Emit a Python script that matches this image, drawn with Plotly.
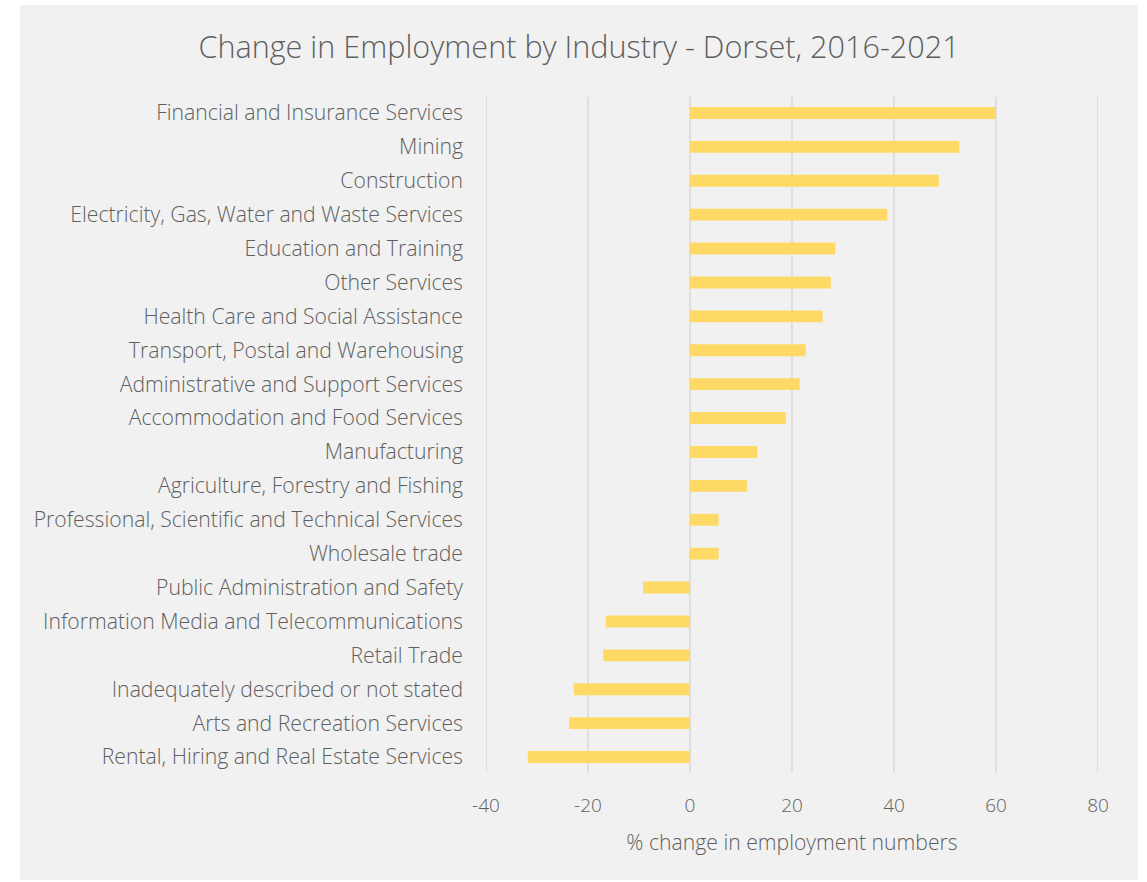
import plotly.graph_objects as go

# Industries, top to bottom as displayed
industries = [
    "Financial and Insurance Services",
    "Mining",
    "Construction",
    "Electricity, Gas, Water and Waste Services",
    "Education and Training",
    "Other Services",
    "Health Care and Social Assistance",
    "Transport, Postal and Warehousing",
    "Administrative and Support Services",
    "Accommodation and Food Services",
    "Manufacturing",
    "Agriculture, Forestry and Fishing",
    "Professional, Scientific and Technical Services",
    "Wholesale trade",
    "Public Administration and Safety",
    "Information Media and Telecommunications",
    "Retail Trade",
    "Inadequately described or not stated",
    "Arts and Recreation Services",
    "Rental, Hiring and Real Estate Services",
]

# % change in employment numbers, 2016-2021
pct_change = [
    60.0, 52.8, 48.8, 38.7, 28.5, 27.6, 26.0, 22.7, 21.5, 18.8,
    13.2, 11.2, 5.6, 5.6, -9.2, -16.5, -17.0, -22.8, -23.7, -31.8,
]

x_ticks = [-40, -20, 0, 20, 40, 60, 80]

W, H = 1147, 882
L, R, T, B = 486, 49, 96, 108
plot_w = W - L - R
plot_h = H - T - B

TEXT = "#5f5f5f"
FONT = "Open Sans"

fig = go.Figure(
    go.Bar(
        x=pct_change,
        y=industries,
        orientation="h",
        marker=dict(color="#FFD966", line=dict(width=0)),
        width=0.35,
    )
)

def px_x(p):
    return (p - L) / plot_w

def px_y(p):
    return (H - B - p) / plot_h

# light grey card behind the chart
fig.add_shape(
    type="rect", xref="paper", yref="paper",
    x0=px_x(20), x1=px_x(1138), y0=px_y(880), y1=px_y(5),
    fillcolor="#f1f1f1", line=dict(width=0), layer="below",
)

# vertical gridlines at every tick, including both ends of the range
for v in x_ticks:
    fig.add_shape(
        type="line", xref="x", yref="paper",
        x0=v, x1=v, y0=px_y(773), y1=px_y(97),
        line=dict(color="#d3d3d3", width=1.2), layer="below",
    )

fig.update_layout(
    width=W, height=H,
    margin=dict(l=L, r=R, t=T, b=B, autoexpand=False),
    paper_bgcolor="white",
    plot_bgcolor="rgba(0,0,0,0)",
    showlegend=False,
    title=dict(
        text="Change in Employment by Industry - Dorset, 2016-2021",
        xref="container", x=579 / W, xanchor="center",
        yref="container", y=1 - 47 / H, yanchor="middle",
        font=dict(family=FONT, size=30.6, color=TEXT, weight=300),
    ),
    font=dict(family=FONT, color=TEXT),
)

fig.update_xaxes(
    range=[-40, 80],
    tickvals=x_ticks,
    ticktext=[str(v) for v in x_ticks],
    showgrid=False,
    zeroline=False, showline=False,
    ticks="", ticklabelstandoff=18,
    tickfont=dict(family=FONT, size=19, color=TEXT, weight=300),
    title=dict(
        text="% change in employment numbers",
        font=dict(family=FONT, size=21.2, color=TEXT, weight=300),
        standoff=18,
    ),
)

fig.update_yaxes(
    categoryorder="array",
    categoryarray=industries[::-1],
    range=[-0.5, len(industries) - 0.5],
    showgrid=False, zeroline=False, showline=False,
    ticks="", ticklabelstandoff=22,
    tickfont=dict(family=FONT, size=21.2, color=TEXT, weight=300),
)

fig.write_html("out.html")
